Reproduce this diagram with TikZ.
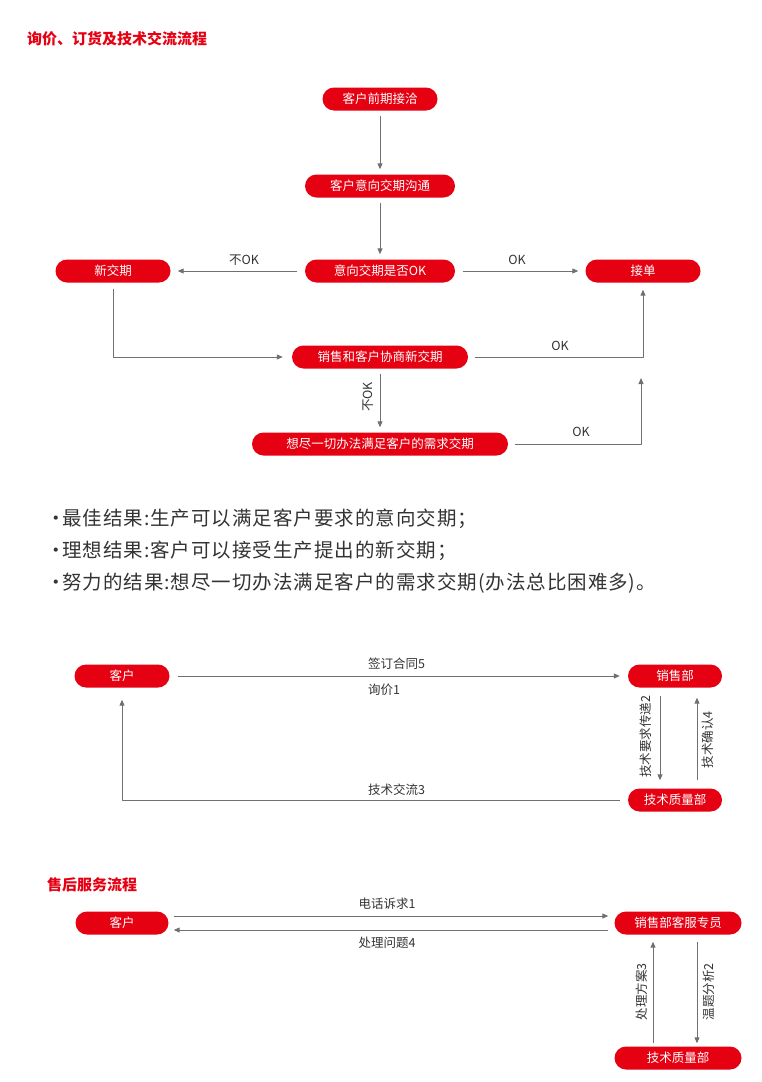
\documentclass[tikz,border=0pt]{standalone}
\usepackage{fontspec}
\setmainfont{Noto Sans CJK SC}
\usetikzlibrary{arrows.meta}
\definecolor{brandred}{HTML}{E50012}
\definecolor{linegray}{HTML}{707070}
\definecolor{textgray}{HTML}{333333}
\newcommand{\dotmark}{\makebox[11pt][c]{·}}
\begin{document}
\begin{tikzpicture}[x=1pt,y=-1pt,>={Triangle[length=6pt,width=5pt]},line join=round,
  pill/.style={fill=brandred,text=white,rounded corners=11.5pt,minimum height=23pt,inner sep=0pt,font=\fontsize{12.5}{14}\selectfont},
  flow/.style={->,draw=linegray,line width=1pt},
  tag/.style={text=textgray,inner sep=1pt,font=\fontsize{12.5}{14}\selectfont},
  heading/.style={text=brandred,anchor=west,inner sep=0pt,font=\fontsize{15}{17}\selectfont\bfseries},
  bullet/.style={text=textgray,anchor=west,inner sep=0pt,font=\fontsize{19.5}{22}\selectfont\addfontfeature{LetterSpace=5}}]
\useasboundingbox (0,0) rectangle (761,1082);
\node[heading] (title1) at (27,39) {询价、订货及技术交流流程};
\node[pill,minimum width=115pt] (contact) at (380,99) {客户前期接洽};
\node[pill,minimum width=150pt] (intent) at (380,186) {客户意向交期沟通};
\node[pill,minimum width=150pt] (check) at (380,271) {意向交期是否OK};
\node[pill,minimum width=115pt] (newdate) at (113,271) {新交期};
\node[pill,minimum width=115pt] (accept) at (643,271) {接单};
\node[pill,minimum width=176pt] (talk) at (380,357) {销售和客户协商新交期};
\node[pill,minimum width=256pt] (best) at (380,444) {想尽一切办法满足客户的需求交期};
\coordinate (okup) at (641,378);
\draw[flow,shorten >=5pt,shorten <=5pt] (contact) -- (intent);
\draw[flow,shorten >=5pt,shorten <=5pt] (intent) -- (check);
\draw[flow,shorten >=7pt,shorten <=8pt] (check) -- (newdate);
\draw[flow,shorten >=7pt,shorten <=8pt] (check) -- (accept);
\draw[flow,shorten >=9pt,shorten <=6pt] (newdate.south) |- (talk.west);
\draw[flow,shorten >=7pt,shorten <=7pt] (talk.east) -| (accept.south);
\draw[flow,shorten >=5pt,shorten <=5pt] (talk) -- (best);
\draw[flow,shorten <=7pt] (best.east) -| (okup);
\node[tag] (nok1) at (244,260) {不OK};
\node[tag] (ok1) at (517,260) {OK};
\node[tag] (ok2) at (560,346) {OK};
\node[tag,rotate=90] (nok2) at (368,397) {不OK};
\node[tag] (ok3) at (581,432) {OK};
\node[bullet] (res1) at (51,519) {\dotmark 最佳结果:生产可以满足客户要求的意向交期；};
\node[bullet] (res2) at (51,551) {\dotmark 理想结果:客户可以接受生产提出的新交期；};
\node[bullet] (res3) at (51,583) {\dotmark 努力的结果:想尽一切办法满足客户的需求交期(办法总比困难多)。};
\node[pill,minimum width=95pt] (client) at (122,676) {客户};
\node[pill,minimum width=94pt] (sales) at (675,676) {销售部};
\node[pill,minimum width=94pt] (tech) at (675,800) {技术质量部};
\draw[flow,shorten >=8pt,shorten <=8pt] (client) -- (sales);
\draw[flow,shorten >=8pt,shorten <=8pt] ([xshift=-15pt]sales.south) -- ([xshift=-15pt]tech.north);
\draw[flow,shorten >=10pt,shorten <=8pt] ([xshift=22pt]tech.north) -- ([xshift=22pt]sales.south);
\draw[flow,shorten >=12pt,shorten <=8pt] (tech.west) -| (client.south);
\node[tag,anchor=west] (sign) at (367,664) {签订合同5};
\node[tag,anchor=west] (quote) at (367,690) {询价1};
\node[tag,anchor=west] (share) at (367,790) {技术交流3};
\node[tag,rotate=90] (req) at (646,737) {技术要求传递2};
\node[tag,rotate=90] (conf) at (708,740) {技术确认4};
\node[heading] (title2) at (47,885) {售后服务流程};
\node[pill,minimum width=93pt] (client2) at (122,923) {客户};
\node[pill,minimum width=127pt] (service) at (678,923) {销售部客服专员};
\node[pill,minimum width=127pt] (tech2) at (678,1058) {技术质量部};
\draw[flow,shorten >=6pt,shorten <=5pt] ([yshift=7pt]client2.east) -- ([yshift=7pt]service.west);
\draw[flow,shorten >=5pt,shorten <=6pt] ([yshift=-7pt]service.west) -- ([yshift=-7pt]client2.east);
\draw[flow,shorten >=7pt,shorten <=3pt] ([xshift=-25pt]tech2.north) -- ([xshift=-25pt]service.south);
\draw[flow,shorten >=3pt,shorten <=7pt] ([xshift=19pt]service.south) -- ([xshift=19pt]tech2.north);
\node[tag] (call) at (387,904) {电话诉求1};
\node[tag] (solve) at (387,943) {处理问题4};
\node[tag,rotate=90] (plan) at (642,992) {处理方案3};
\node[tag,rotate=90] (analyse) at (709,992) {温题分析2};
\end{tikzpicture}
\end{document}
